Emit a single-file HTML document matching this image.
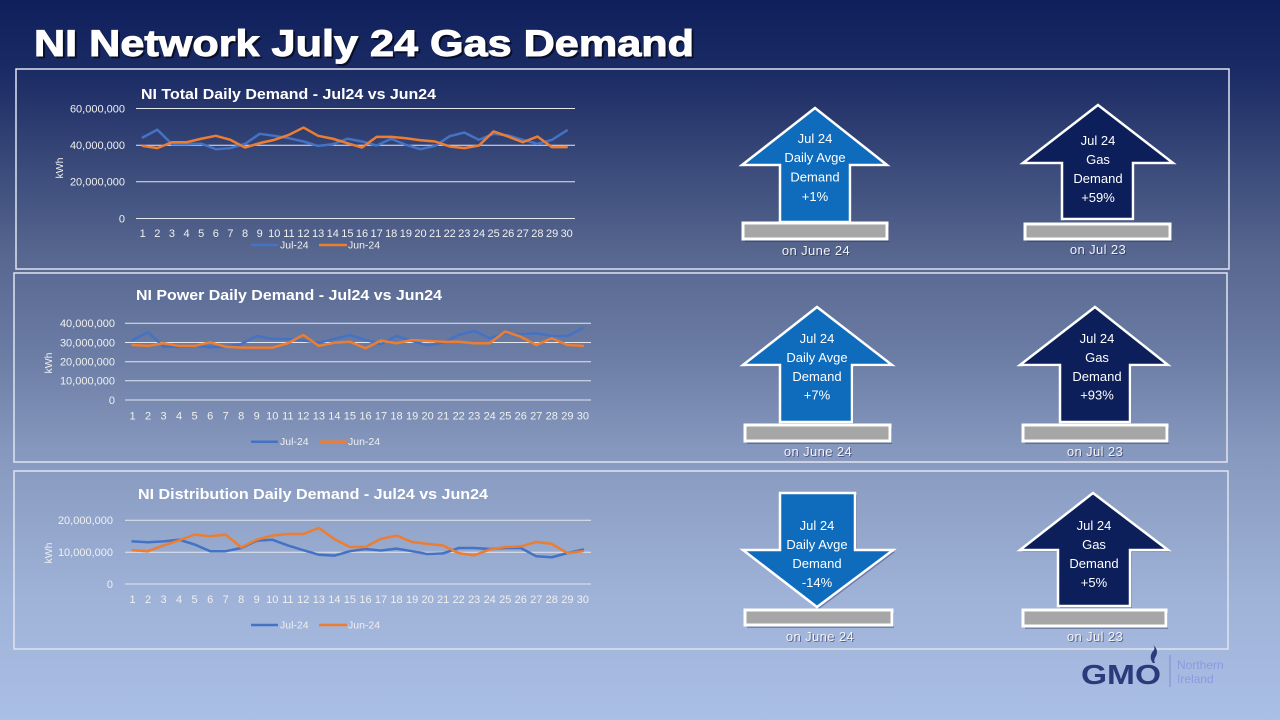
<!DOCTYPE html>
<html>
<head>
<meta charset="utf-8">
<style>
  html,body{margin:0;padding:0;width:1280px;height:720px;overflow:hidden;}
  svg{display:block;font-family:"Liberation Sans", sans-serif;}
  .yl{font-size:11px;fill:#f0f0f0;text-anchor:end;}
  .xl{font-size:11px;fill:#f0f0f0;text-anchor:middle;}
  .lg{font-size:10.5px;fill:#f0f0f0;}
  .ct{font-size:15px;font-weight:bold;fill:#ffffff;}
  .grid{stroke:#e4e6ee;stroke-width:1;}
  .box{fill:none;stroke:#dfe3ef;stroke-width:1.5;}
  .ser{fill:none;stroke-width:2.5;stroke-linejoin:round;stroke-linecap:round;}
  .at{font-size:13px;fill:#ffffff;text-anchor:middle;}
  .on{font-size:13px;fill:#f2f2f2;text-anchor:middle;letter-spacing:0.4px;}
  .ons{font-size:13px;fill:#1a2350;fill-opacity:0.55;text-anchor:middle;letter-spacing:0.4px;}
  .arL{fill:#0f6cbd;stroke:#ffffff;stroke-width:2.5;stroke-linejoin:miter;}
  .arD{fill:#0c1f5a;stroke:#ffffff;stroke-width:2.5;stroke-linejoin:miter;}
  .bar{fill:#a6a6a6;stroke:#ffffff;stroke-width:3;}
  .sh{fill:#1a2350;fill-opacity:0.35;}
</style>
</head>
<body>
<svg width="1280" height="720" viewBox="0 0 1280 720" xmlns="http://www.w3.org/2000/svg">
  <defs>
    <linearGradient id="bg" x1="0" y1="0" x2="0" y2="1">
      <stop offset="0" stop-color="#0e1f5c"/>
      <stop offset="0.1" stop-color="#1b2b64"/>
      <stop offset="0.35" stop-color="#56668e"/>
      <stop offset="0.5" stop-color="#6d7ea6"/>
      <stop offset="0.62" stop-color="#8597bd"/>
      <stop offset="0.83" stop-color="#9fb2d8"/>
      <stop offset="1" stop-color="#aabfe6"/>
    </linearGradient>
  </defs>
  <rect x="0" y="0" width="1280" height="720" fill="url(#bg)"/>

  <!-- Title -->
  <text x="36" y="58" font-size="37" font-weight="bold" fill="#000" fill-opacity="0.55" stroke="#000" stroke-opacity="0.4" stroke-width="1" textLength="660" lengthAdjust="spacingAndGlyphs">NI Network July 24 Gas Demand</text>
  <text x="34" y="56" font-size="37" font-weight="bold" fill="#ffffff" stroke="#ffffff" stroke-width="1" textLength="660" lengthAdjust="spacingAndGlyphs">NI Network July 24 Gas Demand</text>

  <!-- Boxes -->
  <rect class="box" x="16" y="69" width="1213" height="200"/>
  <rect class="box" x="14" y="273" width="1213" height="189"/>
  <rect class="box" x="14" y="471" width="1214" height="178"/>

  <!-- ================= CHART 1 ================= -->
  <text class="ct" x="141" y="99" textLength="295" lengthAdjust="spacingAndGlyphs">NI Total Daily Demand - Jul24 vs Jun24</text>
  <line class="grid" x1="136" y1="108.5" x2="575" y2="108.5"/>
  <line class="grid" x1="136" y1="145.2" x2="575" y2="145.2"/>
  <line class="grid" x1="136" y1="181.8" x2="575" y2="181.8"/>
  <line class="grid" x1="136" y1="218.5" x2="575" y2="218.5"/>
  <text class="yl" x="125" y="112.5">60,000,000</text>
  <text class="yl" x="125" y="149">40,000,000</text>
  <text class="yl" x="125" y="185.5">20,000,000</text>
  <text class="yl" x="125" y="222.5">0</text>
  <text class="lg" transform="translate(63,168) rotate(-90)" text-anchor="middle" font-size="11">kWh</text>
  <g class="xl">
    <text x="142.7" y="237">1</text><text x="157.3" y="237">2</text><text x="171.9" y="237">3</text><text x="186.6" y="237">4</text><text x="201.2" y="237">5</text><text x="215.8" y="237">6</text><text x="230.4" y="237">7</text><text x="245.0" y="237">8</text><text x="259.7" y="237">9</text><text x="274.3" y="237">10</text><text x="288.9" y="237">11</text><text x="303.5" y="237">12</text><text x="318.1" y="237">13</text><text x="332.8" y="237">14</text><text x="347.4" y="237">15</text><text x="362.0" y="237">16</text><text x="376.6" y="237">17</text><text x="391.2" y="237">18</text><text x="405.9" y="237">19</text><text x="420.5" y="237">20</text><text x="435.1" y="237">21</text><text x="449.7" y="237">22</text><text x="464.3" y="237">23</text><text x="479.0" y="237">24</text><text x="493.6" y="237">25</text><text x="508.2" y="237">26</text><text x="522.8" y="237">27</text><text x="537.4" y="237">28</text><text x="552.1" y="237">29</text><text x="566.7" y="237">30</text>
  </g>
  <g transform="translate(128.08,218.5) scale(14.62,-1.8333)">
    <polyline class="ser" vector-effect="non-scaling-stroke" stroke="#4472c4" points="1,44.2 2,48.4 3,40.6 4,40.6 5,40.8 6,37.8 7,38.4 8,40.7 9,46.2 10,45.1 11,43.8 12,42 13,39.6 14,40.5 15,43.5 16,42 17,39.8 18,43.5 19,40.2 20,37.8 21,39.6 22,44.9 23,46.9 24,42.9 25,46.2 26,45.3 27,42.9 28,40.7 29,42.9 30,48"/>
    <polyline class="ser" vector-effect="non-scaling-stroke" stroke="#ed7d31" points="1,39.6 2,38.4 3,41.6 4,41.6 5,43.5 6,45.1 7,42.9 8,38.7 9,41.1 10,42.9 11,45.6 12,49.6 13,45.1 14,43.5 15,41.1 16,38.7 17,44.5 18,44.5 19,43.8 20,42.7 21,42 22,39.3 23,38.4 24,39.8 25,47.5 26,44.7 27,41.6 28,44.7 29,38.9 30,38.9"/>
  </g>
  <line x1="251" y1="245" x2="278" y2="245" stroke="#4472c4" stroke-width="2.5"/>
  <text class="lg" x="280" y="248.5">Jul-24</text>
  <line x1="319" y1="245" x2="347" y2="245" stroke="#ed7d31" stroke-width="2.5"/>
  <text class="lg" x="348" y="248.5">Jun-24</text>

  <!-- ================= CHART 2 ================= -->
  <text class="ct" x="136" y="300" textLength="306" lengthAdjust="spacingAndGlyphs">NI Power Daily Demand - Jul24 vs Jun24</text>
  <line class="grid" x1="125" y1="323.3" x2="591" y2="323.3"/>
  <line class="grid" x1="125" y1="342.5" x2="591" y2="342.5"/>
  <line class="grid" x1="125" y1="361.7" x2="591" y2="361.7"/>
  <line class="grid" x1="125" y1="380.8" x2="591" y2="380.8"/>
  <line class="grid" x1="125" y1="400" x2="591" y2="400"/>
  <text class="yl" x="115" y="327.2">40,000,000</text>
  <text class="yl" x="115" y="346.4">30,000,000</text>
  <text class="yl" x="115" y="365.6">20,000,000</text>
  <text class="yl" x="115" y="384.7">10,000,000</text>
  <text class="yl" x="115" y="403.9">0</text>
  <text class="lg" transform="translate(52,363) rotate(-90)" text-anchor="middle" font-size="11">kWh</text>
  <g class="xl">
    <text x="132.5" y="419.5">1</text><text x="148.0" y="419.5">2</text><text x="163.6" y="419.5">3</text><text x="179.1" y="419.5">4</text><text x="194.6" y="419.5">5</text><text x="210.2" y="419.5">6</text><text x="225.7" y="419.5">7</text><text x="241.2" y="419.5">8</text><text x="256.7" y="419.5">9</text><text x="272.3" y="419.5">10</text><text x="287.8" y="419.5">11</text><text x="303.3" y="419.5">12</text><text x="318.9" y="419.5">13</text><text x="334.4" y="419.5">14</text><text x="349.9" y="419.5">15</text><text x="365.5" y="419.5">16</text><text x="381.0" y="419.5">17</text><text x="396.5" y="419.5">18</text><text x="412.1" y="419.5">19</text><text x="427.6" y="419.5">20</text><text x="443.1" y="419.5">21</text><text x="458.7" y="419.5">22</text><text x="474.2" y="419.5">23</text><text x="489.7" y="419.5">24</text><text x="505.3" y="419.5">25</text><text x="520.8" y="419.5">26</text><text x="536.3" y="419.5">27</text><text x="551.8" y="419.5">28</text><text x="567.4" y="419.5">29</text><text x="582.9" y="419.5">30</text>
  </g>
  <g transform="translate(116.97,400) scale(15.53,-1.9175)">
    <polyline class="ser" vector-effect="non-scaling-stroke" stroke="#4472c4" points="1,31.3 2,35.3 3,27.8 4,27.8 5,28.2 6,27.5 7,27.8 8,29.2 9,33.4 10,31.8 11,31.8 12,31 13,29.9 14,31.8 15,33.9 16,31.3 17,29.2 18,33.4 19,30.8 20,28.5 21,29.9 22,33.9 23,36 24,32.2 25,34.8 26,34.3 27,34.8 28,33.4 29,33.4 30,37.4"/>
    <polyline class="ser" vector-effect="non-scaling-stroke" stroke="#ed7d31" points="1,28.7 2,28.2 3,29.6 4,28.2 5,28.2 6,30.1 7,27.8 8,27.3 9,27.3 10,27.3 11,29.6 12,33.9 13,28.2 14,29.9 15,30.4 16,27 17,31 18,29.6 19,31.3 20,30.8 21,30.4 22,30.4 23,29.6 24,29.6 25,35.7 26,33 27,28.7 28,32.2 29,28.7 30,28.2"/>
  </g>
  <line x1="251" y1="441.7" x2="278" y2="441.7" stroke="#4472c4" stroke-width="2.5"/>
  <text class="lg" x="280" y="445.2">Jul-24</text>
  <line x1="319" y1="441.7" x2="347" y2="441.7" stroke="#ed7d31" stroke-width="2.5"/>
  <text class="lg" x="348" y="445.2">Jun-24</text>

  <!-- ================= CHART 3 ================= -->
  <text class="ct" x="138" y="499" textLength="350" lengthAdjust="spacingAndGlyphs">NI Distribution Daily Demand - Jul24 vs Jun24</text>
  <line class="grid" x1="125" y1="520.3" x2="591" y2="520.3"/>
  <line class="grid" x1="125" y1="552.2" x2="591" y2="552.2"/>
  <line class="grid" x1="125" y1="584" x2="591" y2="584"/>
  <text class="yl" x="113" y="524.2">20,000,000</text>
  <text class="yl" x="113" y="556.1">10,000,000</text>
  <text class="yl" x="113" y="587.9">0</text>
  <text class="lg" transform="translate(52,553) rotate(-90)" text-anchor="middle" font-size="11">kWh</text>
  <g class="xl">
    <text x="132.5" y="603">1</text><text x="148.0" y="603">2</text><text x="163.6" y="603">3</text><text x="179.1" y="603">4</text><text x="194.6" y="603">5</text><text x="210.2" y="603">6</text><text x="225.7" y="603">7</text><text x="241.2" y="603">8</text><text x="256.7" y="603">9</text><text x="272.3" y="603">10</text><text x="287.8" y="603">11</text><text x="303.3" y="603">12</text><text x="318.9" y="603">13</text><text x="334.4" y="603">14</text><text x="349.9" y="603">15</text><text x="365.5" y="603">16</text><text x="381.0" y="603">17</text><text x="396.5" y="603">18</text><text x="412.1" y="603">19</text><text x="427.6" y="603">20</text><text x="443.1" y="603">21</text><text x="458.7" y="603">22</text><text x="474.2" y="603">23</text><text x="489.7" y="603">24</text><text x="505.3" y="603">25</text><text x="520.8" y="603">26</text><text x="536.3" y="603">27</text><text x="551.8" y="603">28</text><text x="567.4" y="603">29</text><text x="582.9" y="603">30</text>
  </g>
  <g transform="translate(116.97,584) scale(15.53,-3.185)">
    <polyline class="ser" vector-effect="non-scaling-stroke" stroke="#4472c4" points="1,13.4 2,13.1 3,13.4 4,13.9 5,12.4 6,10.3 7,10.3 8,11.3 9,13.6 10,13.9 11,12.1 12,10.6 13,9.2 14,8.9 15,10.3 16,11 17,10.5 18,11.1 19,10.3 20,9.4 21,9.6 22,11.3 23,11.3 24,11 25,11.3 26,11.3 27,8.7 28,8.4 29,9.7 30,10.8"/>
    <polyline class="ser" vector-effect="non-scaling-stroke" stroke="#ed7d31" points="1,10.6 2,10.3 3,12.1 4,13.7 5,15.5 6,15 7,15.5 8,11.5 9,13.9 10,15.2 11,15.7 12,15.7 13,17.6 14,14.1 15,11.6 16,11.6 17,14.2 18,15.2 19,13.2 20,12.6 21,12.1 22,9.7 23,9 24,10.8 25,11.6 26,11.8 27,13.2 28,12.6 29,9.7 30,10.3"/>
  </g>
  <line x1="251" y1="625" x2="278" y2="625" stroke="#4472c4" stroke-width="2.5"/>
  <text class="lg" x="280" y="628.5">Jul-24</text>
  <line x1="319" y1="625" x2="347" y2="625" stroke="#ed7d31" stroke-width="2.5"/>
  <text class="lg" x="348" y="628.5">Jun-24</text>

  <!-- ================= ARROWS ROW 1 ================= -->
  <polygon class="sh" points="817,110 889,167 852,167 852,224 782,224 782,167 744,167"/>
  <polygon class="arL" points="815,108 887,165 850,165 850,222 780,222 780,165 742,165"/>
  <rect class="sh" x="745" y="226" width="144" height="16"/>
  <rect class="bar" x="743" y="223" width="144" height="16"/>
  <text class="at" x="815" y="143">Jul 24</text>
  <text class="at" x="815" y="162">Daily Avge</text>
  <text class="at" x="815" y="181.5">Demand</text>
  <text class="at" x="815" y="201">+1%</text>
  <text class="ons" x="817" y="256">on June 24</text>
  <text class="on" x="816" y="255">on June 24</text>

  <polygon class="sh" points="1100,107 1175,165 1135,165 1135,221 1064,221 1064,165 1025,165"/>
  <polygon class="arD" points="1098,105 1173,163 1133,163 1133,219 1062,219 1062,163 1023,163"/>
  <rect class="sh" x="1027" y="227" width="145" height="15"/>
  <rect class="bar" x="1025" y="224" width="145" height="15"/>
  <text class="at" x="1098" y="145">Jul 24</text>
  <text class="at" x="1098" y="164">Gas</text>
  <text class="at" x="1098" y="183">Demand</text>
  <text class="at" x="1098" y="202">+59%</text>
  <text class="ons" x="1099" y="255">on Jul 23</text>
  <text class="on" x="1098" y="254">on Jul 23</text>

  <!-- ================= ARROWS ROW 2 ================= -->
  <polygon class="sh" points="819,309 894,367 854,367 854,424 782,424 782,367 745,367"/>
  <polygon class="arL" points="817,307 892,365 852,365 852,422 780,422 780,365 743,365"/>
  <rect class="sh" x="747" y="428" width="145" height="16"/>
  <rect class="bar" x="745" y="425" width="145" height="16"/>
  <text class="at" x="817" y="343">Jul 24</text>
  <text class="at" x="817" y="362">Daily Avge</text>
  <text class="at" x="817" y="381">Demand</text>
  <text class="at" x="817" y="399.5">+7%</text>
  <text class="ons" x="819" y="457">on June 24</text>
  <text class="on" x="818" y="456">on June 24</text>

  <polygon class="sh" points="1097,309 1170,367 1132,367 1132,424 1062,424 1062,367 1022,367"/>
  <polygon class="arD" points="1095,307 1168,365 1130,365 1130,422 1060,422 1060,365 1020,365"/>
  <rect class="sh" x="1025" y="428" width="144" height="16"/>
  <rect class="bar" x="1023" y="425" width="144" height="16"/>
  <text class="at" x="1097" y="343">Jul 24</text>
  <text class="at" x="1097" y="362">Gas</text>
  <text class="at" x="1097" y="381">Demand</text>
  <text class="at" x="1097" y="399.5">+93%</text>
  <text class="ons" x="1096" y="457">on Jul 23</text>
  <text class="on" x="1095" y="456">on Jul 23</text>

  <!-- ================= ARROWS ROW 3 ================= -->
  <polygon class="sh" points="782,495 857,495 857,552 895,552 819,609 745,552 782,552"/>
  <polygon class="arL" points="780,493 855,493 855,550 893,550 817,607 743,550 780,550"/>
  <rect class="sh" x="747" y="613" width="147" height="15"/>
  <rect class="bar" x="745" y="610" width="147" height="15"/>
  <text class="at" x="817" y="530">Jul 24</text>
  <text class="at" x="817" y="549">Daily Avge</text>
  <text class="at" x="817" y="568">Demand</text>
  <text class="at" x="817" y="587">-14%</text>
  <text class="ons" x="821" y="642">on June 24</text>
  <text class="on" x="820" y="641">on June 24</text>

  <polygon class="sh" points="1095,495 1170,552 1132,552 1132,608 1060,608 1060,552 1022,552"/>
  <polygon class="arD" points="1093,493 1168,550 1130,550 1130,606 1058,606 1058,550 1020,550"/>
  <rect class="sh" x="1025" y="613" width="143" height="16"/>
  <rect class="bar" x="1023" y="610" width="143" height="16"/>
  <text class="at" x="1094" y="530">Jul 24</text>
  <text class="at" x="1094" y="549">Gas</text>
  <text class="at" x="1094" y="568">Demand</text>
  <text class="at" x="1094" y="587">+5%</text>
  <text class="ons" x="1096" y="642">on Jul 23</text>
  <text class="on" x="1095" y="641">on Jul 23</text>

  <!-- ================= LOGO ================= -->
  <text x="1081" y="684" font-size="28" font-weight="bold" fill="#2b3a7b" textLength="80" lengthAdjust="spacingAndGlyphs">GMO</text>
  <path d="M1153,663 C1149,658 1151,653 1154,650 C1155,648 1154,646 1153,645 C1157,648 1158,652 1156,656 C1154,659 1154,661 1155,663 Z" fill="#2b3a7b"/>
  <line x1="1170" y1="655" x2="1170" y2="687" stroke="#7f8bd0" stroke-width="1"/>
  <text x="1177" y="669" font-size="12" fill="#8c98e0">Northern</text>
  <text x="1177" y="683" font-size="12" fill="#8c98e0">Ireland</text>
</svg>
</body>
</html>
